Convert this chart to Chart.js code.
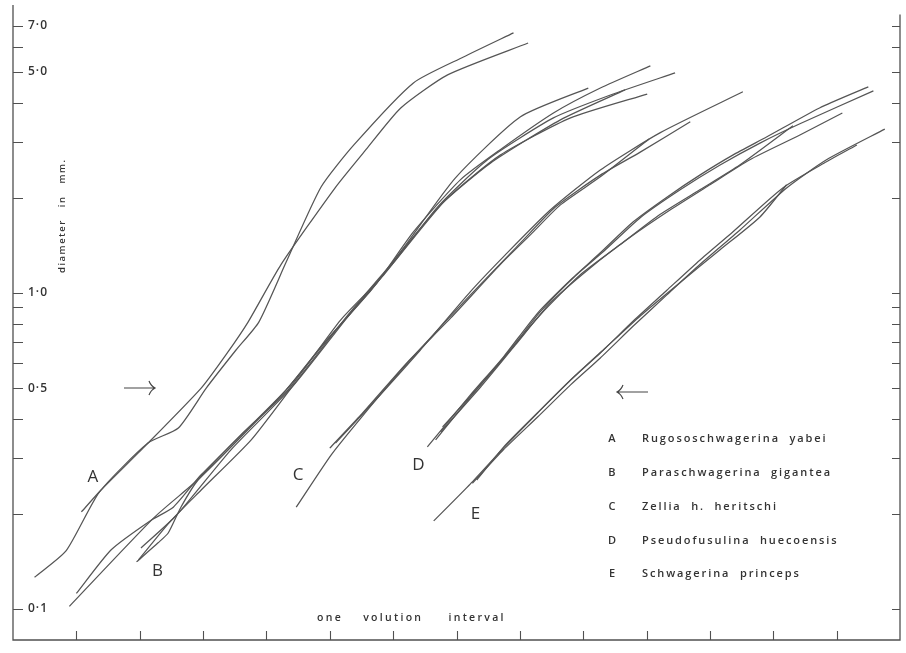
<!DOCTYPE html>
<html>
<head>
<meta charset="utf-8">
<script src="https://cdn.jsdelivr.net/npm/chart.js@4.4.0/dist/chart.umd.min.js"></script>
<style>
  html, body { margin: 0; padding: 0; background: #fff; }
</style>
</head>
<body>
<canvas id="chart" width="906" height="653"></canvas>
<script>
// -> Achsen
const xTicks = [1, 2, 3, 4, 5, 6, 7, 8, 9, 10, 11, 12, 13];
const yTicks = [0.1, 0.2, 0.3, 0.4, 0.5, 0.6, 0.7, 0.8, 0.9, 1, 2, 3, 4, 5, 6, 7];
const yLabelValues = [7, 5, 1, 0.5, 0.1];
const yLabelTexts = ["7·0", "5·0", "1·0", "0·5", "0·1"];

// -> Legende
const speciesLetters = ["A", "B", "C", "D", "E"];
const speciesNames = [
  "Rugososchwagerina  yabei",
  "Paraschwagerina  gigantea",
  "Zellia  h.  heritschi",
  "Pseudofusulina  huecoensis",
  "Schwagerina  princeps"
];

// -> Kurven [Windung, Durchmesser mm]
const a1 = [[0.34, 0.126], [0.84, 0.153], [1.36, 0.234], [2.13, 0.335], [2.61, 0.374], [3.05, 0.500],
  [3.52, 0.660], [3.88, 0.809], [4.31, 1.25], [4.86, 2.16], [5.38, 2.94], [6.32, 4.62], [7.11, 5.58], [7.90, 6.65]];
const a2 = [[1.08, 0.203], [1.39, 0.238], [2.10, 0.330], [2.97, 0.500], [3.36, 0.637], [3.71, 0.809],
  [4.23, 1.23], [5.09, 2.16], [5.57, 2.84], [6.12, 3.85], [6.86, 4.90], [8.13, 6.18]];

const b1 = [[0.89, 0.102], [2.23, 0.195], [2.97, 0.262], [4.31, 0.493], [4.86, 0.675], [5.65, 1.02],
  [6.20, 1.42], [6.98, 2.31], [8.01, 3.61], [9.08, 4.45]];
const b2 = [[1.00, 0.112], [1.55, 0.154], [2.18, 0.191], [2.53, 0.210], [2.97, 0.266], [4.28, 0.486],
  [5.02, 0.736], [5.72, 1.06], [6.32, 1.56], [7.06, 2.28], [7.69, 2.84], [8.53, 3.71], [9.27, 4.45], [10.06, 5.23]];
const b3 = [[1.95, 0.141], [2.29, 0.162], [2.45, 0.174], [2.65, 0.210], [2.92, 0.256], [3.60, 0.356],
  [4.34, 0.493], [5.17, 0.821], [5.85, 1.14], [6.70, 1.87], [7.49, 2.64], [8.53, 3.58], [9.43, 4.23], [10.45, 4.97]];
const b4 = [[1.98, 0.143], [2.50, 0.191], [2.97, 0.238], [3.76, 0.343], [4.39, 0.500], [5.25, 0.834],
  [5.96, 1.23], [6.75, 1.90], [7.54, 2.58], [8.64, 3.53], [9.66, 4.39]];
const b5 = [[2.02, 0.156], [2.58, 0.198], [3.44, 0.319], [4.42, 0.508], [5.33, 0.864], [6.04, 1.27],
  [6.83, 1.97], [7.69, 2.73], [8.80, 3.58], [10.01, 4.26]];

const c1 = [[4.47, 0.210], [5.02, 0.307], [5.49, 0.402], [6.20, 0.592], [7.22, 0.986], [8.01, 1.44],
  [8.56, 1.87], [9.27, 2.36], [9.90, 2.79], [10.69, 3.48]];
const c2 = [[5.00, 0.323], [5.49, 0.411], [6.23, 0.605], [6.91, 0.834], [7.69, 1.23], [8.17, 1.53],
  [8.64, 1.90], [9.27, 2.33], [10.04, 3.07]];
const c3 = [[5.09, 0.335], [5.65, 0.442], [6.43, 0.660], [7.22, 1.01], [7.77, 1.32], [8.48, 1.83],
  [9.27, 2.45], [10.21, 3.21], [11.52, 4.33]];

const d1 = [[6.54, 0.326], [7.22, 0.476], [7.74, 0.627], [8.28, 0.864], [8.80, 1.10], [9.27, 1.34],
  [9.79, 1.68], [10.32, 2.01], [10.84, 2.36], [11.36, 2.73], [11.90, 3.12], [12.73, 3.85], [13.50, 4.49]];
const d2 = [[6.78, 0.377], [7.38, 0.512], [7.85, 0.660], [8.32, 0.871], [8.87, 1.13], [9.35, 1.37],
  [9.90, 1.73], [10.53, 2.12], [11.16, 2.54], [11.79, 2.98], [12.42, 3.43], [13.58, 4.36]];
const d3 = [[6.67, 0.343], [7.22, 0.469], [7.74, 0.623], [8.32, 0.852], [8.95, 1.14], [9.58, 1.42],
  [10.21, 1.77], [10.84, 2.12], [11.47, 2.54], [12.31, 3.38]];
const d4 = [[6.75, 0.363], [7.38, 0.504], [7.93, 0.685], [8.48, 0.930], [9.11, 1.20], [9.74, 1.50],
  [10.37, 1.83], [11.00, 2.20], [11.63, 2.64], [12.42, 3.16], [13.09, 3.71]];

const e1 = [[6.64, 0.190], [7.22, 0.249], [7.74, 0.323], [8.28, 0.417], [8.80, 0.531], [9.27, 0.646],
  [9.79, 0.815], [10.32, 1.02], [10.84, 1.27], [11.36, 1.56], [12.15, 2.15], [12.84, 2.60], [13.32, 2.94]];
const e2 = [[7.25, 0.250], [7.74, 0.319], [8.28, 0.405], [8.80, 0.512], [9.27, 0.623], [9.79, 0.786],
  [10.32, 0.986], [10.84, 1.23], [11.47, 1.58], [12.21, 2.15], [12.84, 2.64], [13.76, 3.30]];
const e3 = [[7.32, 0.256], [7.77, 0.330], [8.32, 0.426], [8.87, 0.546], [9.35, 0.670], [9.90, 0.846],
  [10.53, 1.08], [11.16, 1.37], [11.79, 1.74], [12.21, 2.20]];

const curves = [a1, a2, b1, b2, b3, b4, b5, c1, c2, c3, d1, d2, d3, d4, e1, e2, e3];

// -> Beschriftung an den Kurven [x, y]
const curveLabelPos = [[1.26, 0.262], [2.28, 0.132], [4.50, 0.265], [6.40, 0.285], [7.30, 0.200]];

const ink = "#333";
const font = "'Open Sans', 'DejaVu Sans', sans-serif";

// -> Rahmen, Ticks und Texte
const paperPlugin = {
  id: "paper",
  afterDraw(chart) {
    const ctx = chart.ctx;
    const area = chart.chartArea;
    const xs = chart.scales.x;
    const ys = chart.scales.y;
    ctx.save();
    ctx.strokeStyle = "#505050";
    ctx.lineWidth = 1.3;

    // Rahmen (ohne oben)
    ctx.beginPath();
    ctx.moveTo(area.left, area.top);
    ctx.lineTo(area.left, area.bottom);
    ctx.lineTo(area.right, area.bottom);
    ctx.lineTo(area.right, ys.getPixelForValue(7.6));
    ctx.stroke();

    // Ticks innen
    ctx.lineWidth = 1.1;
    ctx.beginPath();
    yTicks.forEach(v => {
      const py = Math.round(ys.getPixelForValue(v)) + 0.5;
      ctx.moveTo(area.left, py); ctx.lineTo(area.left + 10, py);
      ctx.moveTo(area.right, py); ctx.lineTo(area.right - 8, py);
    });
    xTicks.forEach(v => {
      const px = Math.round(xs.getPixelForValue(v)) + 0.5;
      ctx.moveTo(px, area.bottom); ctx.lineTo(px, area.bottom - 9);
    });
    ctx.stroke();

    ctx.fillStyle = ink;
    ctx.textBaseline = "middle";
    ctx.textAlign = "left";
    ctx.font = "600 12px " + font;
    ctx.letterSpacing = "1px";
    yLabelValues.forEach((v, i) => {
      ctx.fillText(yLabelTexts[i], area.left + 15, ys.getPixelForValue(v));
    });

    // Achsentitel
    ctx.font = "600 10.5px " + font;
    ctx.letterSpacing = "2.3px";
    ctx.fillText("one    volution     interval", 317, 618);

    ctx.save();
    ctx.translate(62, 273);
    ctx.rotate(-Math.PI / 2);
    ctx.font = "600 9.5px " + font;
    ctx.letterSpacing = "1.5px";
    ctx.fillText("diameter   in   mm.", 0, 0);
    ctx.restore();

    // Kurvenbuchstaben
    ctx.font = "17px " + font;
    ctx.letterSpacing = "0px";
    ctx.textAlign = "center";
    speciesLetters.forEach((s, i) => {
      const p = curveLabelPos[i];
      ctx.fillText(s, xs.getPixelForValue(p[0]), ys.getPixelForValue(p[1]));
    });

    // Legende
    ctx.font = "600 11px " + font;
    speciesLetters.forEach((s, i) => {
      const py = 439 + i * 33.8;
      ctx.textAlign = "center";
      ctx.letterSpacing = "0px";
      ctx.fillText(s, 612, py);
      ctx.textAlign = "left";
      ctx.letterSpacing = "1.9px";
      ctx.fillText(speciesNames[i], 642, py);
    });

    // Pfeile
    ctx.strokeStyle = "#444";
    ctx.lineWidth = 1.2;
    ctx.beginPath();
    ctx.moveTo(124, 388); ctx.lineTo(155, 388);
    ctx.moveTo(149, 381); ctx.quadraticCurveTo(151, 386, 155, 388); ctx.quadraticCurveTo(151, 390, 149, 395);
    ctx.moveTo(617, 392); ctx.lineTo(648, 392);
    ctx.moveTo(623, 385); ctx.quadraticCurveTo(621, 390, 617, 392); ctx.quadraticCurveTo(621, 394, 623, 399);
    ctx.stroke();
    ctx.restore();
  }
};

const canvas = document.querySelector("#chart");

const chart = new Chart(canvas, {
  type: "scatter",
  data: {
    datasets: curves.map(c => ({
      data: c.map(p => ({ x: p[0], y: p[1] })),
      showLine: true,
      borderColor: "#555",
      borderWidth: 1.25,
      pointRadius: 0,
      tension: 0.2
    }))
  },
  options: {
    responsive: false,
    animation: false,
    devicePixelRatio: 1,
    layout: { padding: { left: 13, right: 6, top: 5, bottom: 13 } },
    plugins: {
      legend: { display: false },
      tooltip: { enabled: false }
    },
    scales: {
      x: { type: "linear", min: 0, max: 14, display: false },
      y: { type: "logarithmic", min: 0.0798, max: 8.15, display: false }
    }
  },
  plugins: [paperPlugin]
});
</script>
</body>
</html>
